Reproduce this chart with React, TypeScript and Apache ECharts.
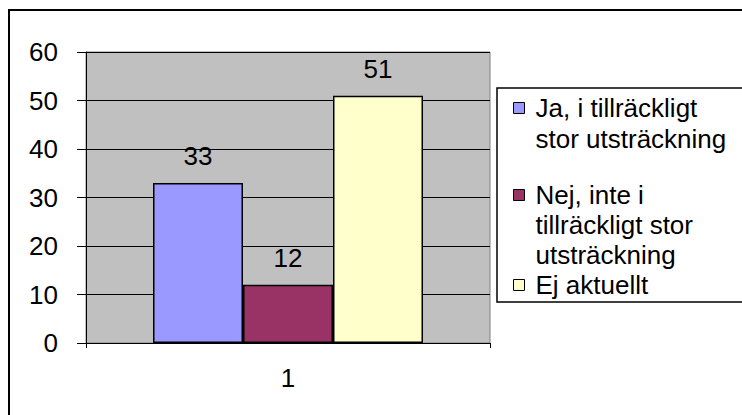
import React, { useEffect, useRef } from "react";
import * as echarts from "echarts";

const categories = ["1"];
const seriesNames = [
  "Ja, i tillräckligt stor utsträckning",
  "Nej, inte i tillräckligt stor utsträckning",
  "Ej aktuellt",
];
const legendLines = [
  ["Ja, i tillräckligt", "stor utsträckning"],
  ["Nej, inte i", "tillräckligt stor", "utsträckning"],
  ["Ej aktuellt"],
];
const seriesValues = [[33], [12], [51]];
const seriesColors = ["#9999FF", "#993366", "#FFFFCC"];
const yTicks = [0, 10, 20, 30, 40, 50, 60];

const FONT = "'Liberation Sans', Arial, sans-serif";
const FS = 26;

export default function App() {
  const ref = useRef<HTMLDivElement>(null);
  useEffect(() => {
    if (!ref.current) return;
    const chart = echarts.init(ref.current, undefined, { renderer: "svg" });
    const iconCenters = [108, 195, 285];
    const lineHeights = [31, 30, 26];
    const legends = seriesNames.map((name, i) => {
      const n = legendLines[i].length;
      const lh = lineHeights[i];
      const blockH = (2 * n - 1) * lh;
      return {
        show: true,
        data: [name],
        orient: "vertical",
        left: 513,
        top: iconCenters[i] - blockH / 2,
        padding: 0,
        itemWidth: 11,
        itemHeight: 11,
        icon: "rect",
        itemStyle: { borderColor: "#000", borderWidth: 1 },
        formatter: () => "\n".repeat(n - 1) + legendLines[i].join("\n"),
        textStyle: {
          fontFamily: FONT,
          fontSize: FS,
          color: "#000",
          lineHeight: lh,
          padding: [0, 0, 0, 6],
        },
        selectedMode: false,
      };
    });
    chart.setOption({
      animation: false,
      backgroundColor: "#fff",
      textStyle: { fontFamily: FONT },
      grid: {
        left: 86,
        top: 52,
        right: 252,
        bottom: 72,
        show: true,
        backgroundColor: "#C0C0C0",
        borderColor: "#808080",
        borderWidth: 1,
      },
      legend: legends,
      graphic: [
        {
          type: "rect",
          shape: { x: 9, y: 10, width: 800, height: 500 },
          style: { fill: "none", stroke: "#000", lineWidth: 2 },
          silent: true,
          z: -1,
        },
        {
          type: "rect",
          shape: { x: 497, y: 88, width: 300, height: 214 },
          style: { fill: "none", stroke: "#000", lineWidth: 1.5 },
          silent: true,
          z: -1,
        },
      ],
      xAxis: {
        type: "category",
        data: categories,
        axisLine: { lineStyle: { color: "#000", width: 1 } },
        axisTick: { show: true, length: 5, lineStyle: { color: "#000" } },
        axisLabel: { fontFamily: FONT, fontSize: FS, color: "#000", margin: 22 },
      },
      yAxis: {
        type: "value",
        min: yTicks[0],
        max: yTicks[yTicks.length - 1],
        interval: 10,
        axisLine: { show: true, lineStyle: { color: "#000", width: 1 } },
        axisTick: { show: true, length: 9, lineStyle: { color: "#000" } },
        axisLabel: { fontFamily: FONT, fontSize: FS, color: "#000", margin: 28 },
        splitLine: { show: true, lineStyle: { color: "#000", width: 1 } },
      },
      series: seriesNames.map((name, i) => ({
        name,
        type: "bar",
        data: seriesValues[i],
        barWidth: 90,
        barGap: "0%",
        itemStyle: { color: seriesColors[i], borderColor: "#000", borderWidth: 1.5 },
        label: {
          show: true,
          position: "top",
          distance: 14,
          fontFamily: FONT,
          fontSize: FS,
          color: "#000",
        },
      })),
    });
    return () => chart.dispose();
  }, []);
  return (
    <div
      ref={ref}
      style={{ position: "fixed", left: 0, top: 0, width: 742, height: 415 }}
    />
  );
}
